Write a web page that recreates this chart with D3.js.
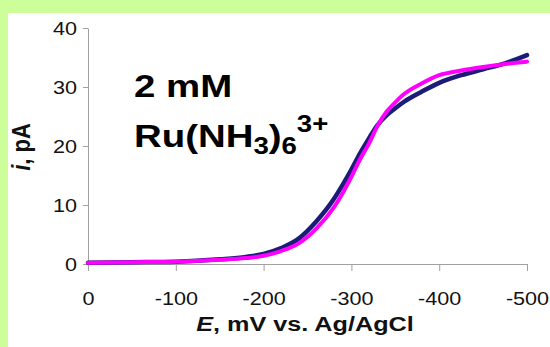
<!DOCTYPE html>
<html>
<head>
<meta charset="utf-8">
<script src="https://cdn.jsdelivr.net/npm/d3@7"></script>
<style>
  html, body { margin: 0; padding: 0; background: #ccff99; }
  svg { display: block; }
  text { font-family: "Liberation Sans", Arial, sans-serif; }
</style>
</head>
<body>
<svg id="chart" width="550" height="347"></svg>
<script>
// potential (mV vs. Ag/AgCl)
const potentials = [0, -50, -100, -150, -180, -200, -220, -240, -260, -280, -290, -300,
  -310, -320, -330, -340, -350, -360, -380, -400, -425, -450, -475, -500];
// measured current (dark trace)
const measured = [0.2, 0.3, 0.4, 0.8, 1.2, 1.7, 2.7, 4.3, 7.2, 11.0, 13.4, 16.0,
  18.8, 21.3, 23.6, 25.2, 26.4, 27.5, 29.2, 30.7, 32.0, 33.0, 34.0, 35.4];
// fitted / simulated current (magenta trace)
const fitted = [0.2, 0.3, 0.4, 0.7, 1.0, 1.4, 2.2, 3.5, 6.0, 9.6, 12.0, 14.8,
  17.8, 20.4, 23.5, 25.8, 27.4, 28.8, 30.6, 32.0, 32.8, 33.4, 33.9, 34.3];
const xTicks = [0, -100, -200, -300, -400, -500];
const yTicks = [0, 10, 20, 30, 40];

const svg = d3.select('#chart');
const stretch = 1.2; // text in the picture is a bit wide

// white panel on the green background
svg.append('rect')
  .attr('x', 8).attr('y', 13)
  .attr('width', 542).attr('height', 334)
  .attr('fill', '#fff');

const x = d3.scaleLinear().domain([0, -500]).range([88, 527]);
const y = d3.scaleLinear().domain([0, 40]).range([264, 28]);

const axisColor = '#a0a0a0';

// y axis
const yAxis = svg.append('g')
  .attr('transform', 'translate(88,0)')
  .call(d3.axisLeft(y).tickValues(yTicks).tickSize(5).tickSizeOuter(0).tickFormat(d => String(d)));
yAxis.select('.domain').attr('stroke', axisColor);
yAxis.selectAll('.tick line').attr('stroke', axisColor);
yAxis.selectAll('.tick text')
  .attr('x', null).attr('dy', null)
  .attr('transform', `translate(-11,6.5) scale(${stretch},1)`)
  .attr('font-size', 18).attr('fill', '#111')
  .attr('font-family', '"Liberation Sans", Arial, sans-serif');

// x axis
const xAxis = svg.append('g')
  .attr('transform', 'translate(0,264)')
  .call(d3.axisBottom(x).tickValues(xTicks).tickSize(7).tickSizeOuter(0).tickFormat(d => String(d)));
xAxis.select('.domain').attr('stroke', axisColor);
xAxis.selectAll('.tick line').attr('stroke', axisColor);
xAxis.selectAll('.tick text')
  .attr('y', null).attr('dy', null)
  .attr('transform', `translate(0,41) scale(${stretch},1)`)
  .attr('font-size', 18).attr('fill', '#111')
  .attr('font-family', '"Liberation Sans", Arial, sans-serif');

// curves
const line = d3.line()
  .x((d, i) => x(potentials[i]))
  .y(d => y(d))
  .curve(d3.curveMonotoneX);

svg.append('path')
  .datum(measured)
  .attr('d', line)
  .attr('fill', 'none')
  .attr('stroke', '#1c1c78')
  .attr('stroke-width', 4.5)
  .attr('stroke-linecap', 'round');

svg.append('path')
  .datum(fitted)
  .attr('d', line)
  .attr('fill', 'none')
  .attr('stroke', '#ff00ff')
  .attr('stroke-width', 4)
  .attr('stroke-linecap', 'round');

// axis titles
const xTitle = svg.append('text')
  .attr('transform', `translate(305,331) scale(${stretch},1)`)
  .attr('text-anchor', 'middle')
  .attr('font-size', 21).attr('font-weight', 'bold').attr('fill', '#111');
xTitle.append('tspan').attr('font-style', 'italic').text('E');
xTitle.append('tspan').text(', mV vs. Ag/AgCl');

const yTitle = svg.append('text')
  .attr('transform', `translate(30,147) scale(${stretch},1) rotate(-90)`)
  .attr('text-anchor', 'middle')
  .attr('font-size', 22).attr('font-weight', 'bold').attr('fill', '#111');
yTitle.append('tspan').attr('font-style', 'italic').text('i');
yTitle.append('tspan').text(', pA');

// annotation
svg.append('text')
  .attr('transform', `translate(134,97) scale(${stretch},1)`)
  .attr('font-size', 32).attr('font-weight', 'bold').attr('fill', '#000')
  .text('2 mM');

const ann = svg.append('text')
  .attr('transform', `translate(134,147) scale(${stretch},1)`)
  .attr('font-size', 32).attr('font-weight', 'bold').attr('fill', '#000');
ann.append('tspan').text('Ru(NH');
ann.append('tspan').attr('font-size', 23).attr('dy', 7).text('3');
ann.append('tspan').attr('dy', -7).text(')');
ann.append('tspan').attr('font-size', 23).attr('dy', 7).text('6');
ann.append('tspan').attr('font-size', 23).attr('dy', -22).text('3+');
</script>
</body>
</html>
